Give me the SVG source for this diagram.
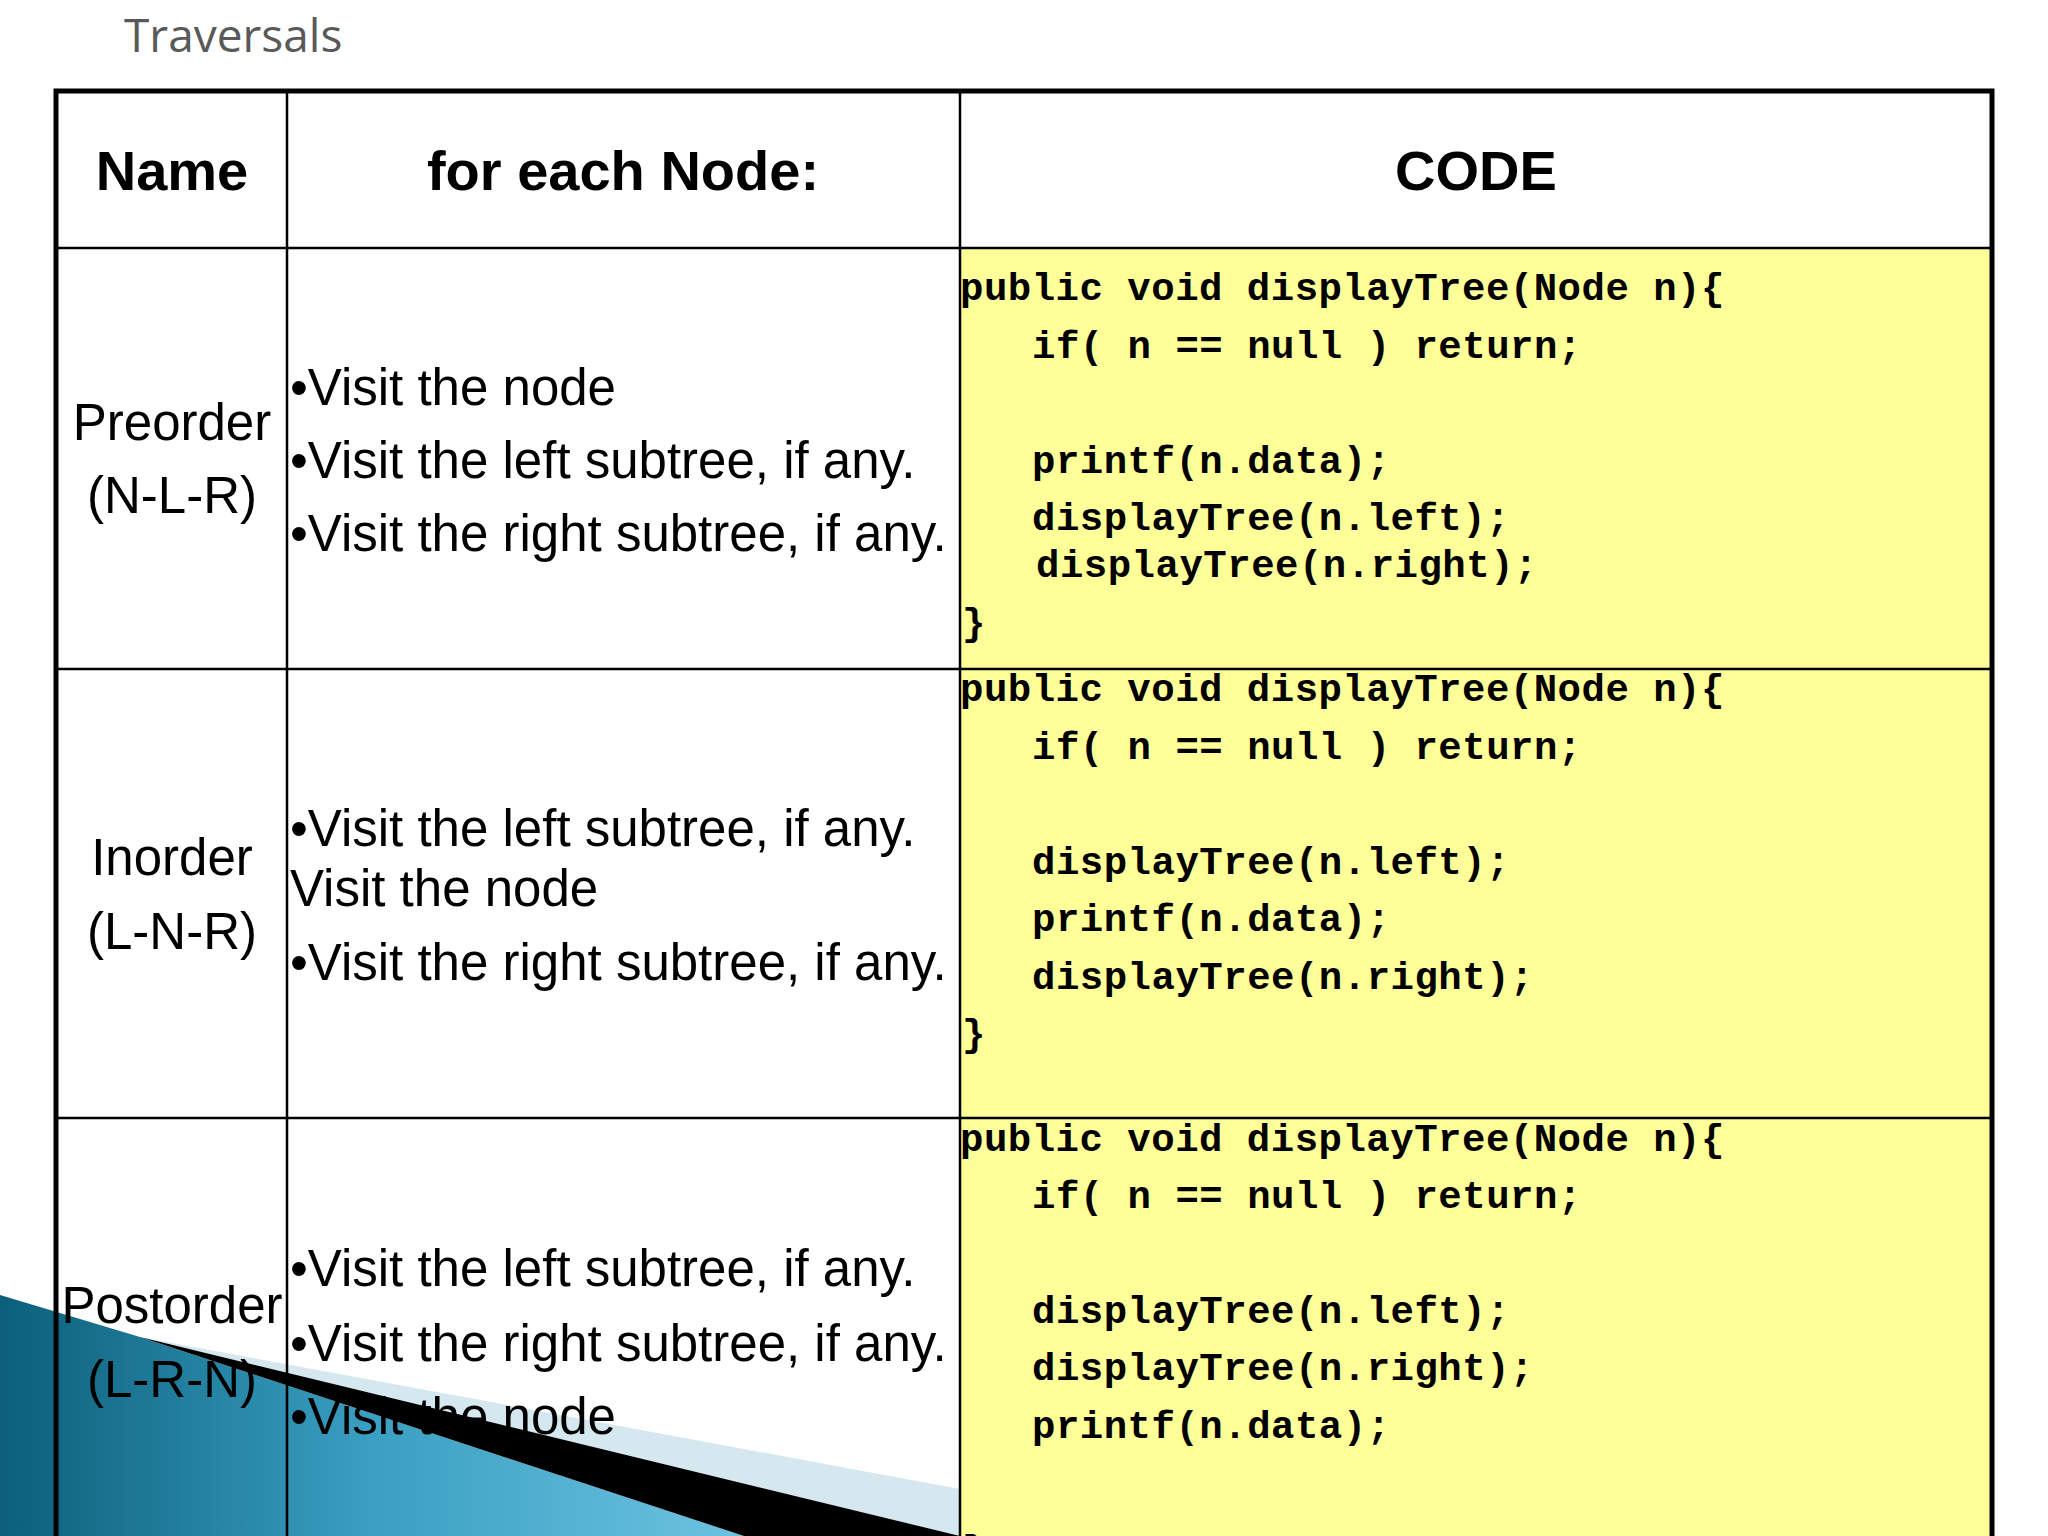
<svg xmlns="http://www.w3.org/2000/svg" width="2048" height="1536" viewBox="0 0 2048 1536">
<defs>
<linearGradient id="blue" x1="0" y1="0" x2="1" y2="0">
<stop offset="0" stop-color="#0b5f7a"/>
<stop offset="0.5" stop-color="#3a9fc2"/>
<stop offset="1" stop-color="#6cc3e0"/>
</linearGradient>
</defs>
<style>
.t{font-family:"Liberation Sans",Arial,sans-serif;font-size:51px;fill:#000}
.h{font-family:"Liberation Sans",Arial,sans-serif;font-size:56px;font-weight:bold;fill:#000;text-anchor:middle}
.c{font-family:"Liberation Mono","Courier New",monospace;font-size:39px;font-weight:bold;fill:#000;letter-spacing:0.5px}
.m{text-anchor:middle}
.ln{stroke:#000;stroke-width:2.5;fill:none}
</style>
<rect width="2048" height="1536" fill="#fff"/>
<text x="124" y="52" font-family="Open Sans, sans-serif" font-size="46" fill="#595959">Traversals</text>
<g id="decoration">
<polygon points="0,1295 140,1337 744,1536 0,1536" fill="url(#blue)"/>
<polygon points="140,1337 960,1489 960,1536" fill="#d6e8ef"/>
<polygon points="140,1337 960,1536 744,1536" fill="#000"/>
</g>
<rect x="960" y="248" width="1032" height="1288" fill="#ffff99"/>
<g id="grid">
<line class="ln" x1="287" y1="91" x2="287" y2="1536"/>
<line class="ln" x1="960" y1="91" x2="960" y2="1536"/>
<line class="ln" x1="56" y1="248" x2="1992" y2="248"/>
<line class="ln" x1="56" y1="669" x2="1992" y2="669"/>
<line class="ln" x1="56" y1="1118" x2="1992" y2="1118"/>
<polyline points="56,1536 56,91 1992,91 1992,1536" fill="none" stroke="#000" stroke-width="5"/>
</g>
<g id="header">
<text class="h" x="172" y="190">Name</text>
<text class="h" x="623" y="190">for each Node:</text>
<text class="h" x="1476" y="190">CODE</text>
</g>
<g id="row-preorder">
<text class="t m" x="172" y="440">Preorder</text>
<text class="t m" x="172" y="513">(N-L-R)</text>
<text class="t" x="290" y="405">•Visit the node</text>
<text class="t" x="290" y="478">•Visit the left subtree, if any.</text>
<text class="t" x="290" y="551">•Visit the right subtree, if any.</text>
<text class="c" x="960" y="300">public void displayTree(Node n){</text>
<text class="c" x="1032" y="358">if( n == null ) return;</text>
<text class="c" x="1032" y="473">printf(n.data);</text>
<text class="c" x="1032" y="530">displayTree(n.left);</text>
<text class="c" x="1036" y="577">displayTree(n.right);</text>
<text class="c" x="962" y="635">}</text>
</g>
<g id="row-inorder">
<text class="t m" x="172" y="875">Inorder</text>
<text class="t m" x="172" y="949">(L-N-R)</text>
<text class="t" x="290" y="846">•Visit the left subtree, if any.</text>
<text class="t" x="290" y="906">Visit the node</text>
<text class="t" x="290" y="980">•Visit the right subtree, if any.</text>
<text class="c" x="960" y="701">public void displayTree(Node n){</text>
<text class="c" x="1032" y="759">if( n == null ) return;</text>
<text class="c" x="1032" y="874">displayTree(n.left);</text>
<text class="c" x="1032" y="931">printf(n.data);</text>
<text class="c" x="1032" y="989">displayTree(n.right);</text>
<text class="c" x="962" y="1046">}</text>
</g>
<g id="row-postorder">
<text class="t m" x="172" y="1323">Postorder</text>
<text class="t m" x="172" y="1397">(L-R-N)</text>
<text class="t" x="290" y="1286">•Visit the left subtree, if any.</text>
<text class="t" x="290" y="1361">•Visit the right subtree, if any.</text>
<text class="t" x="290" y="1434">•Visit the node</text>
<text class="c" x="960" y="1151">public void displayTree(Node n){</text>
<text class="c" x="1032" y="1208">if( n == null ) return;</text>
<text class="c" x="1032" y="1323">displayTree(n.left);</text>
<text class="c" x="1032" y="1380">displayTree(n.right);</text>
<text class="c" x="1032" y="1438">printf(n.data);</text>
<text class="c" x="962" y="1562">}</text>
</g>
</svg>
